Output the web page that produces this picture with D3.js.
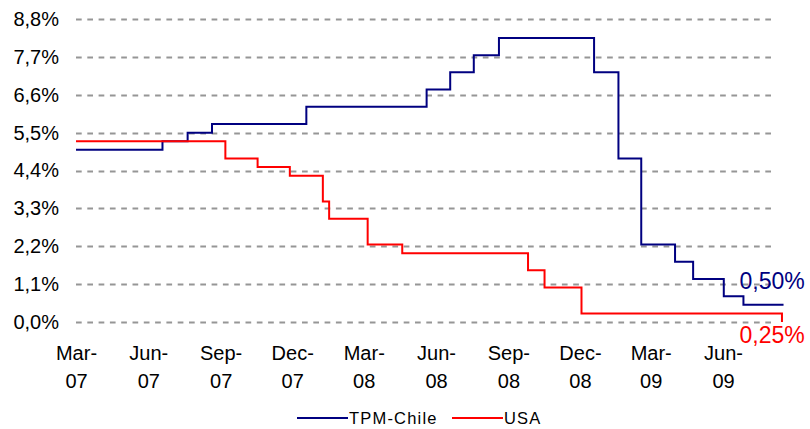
<!DOCTYPE html>
<html>
<head>
<meta charset="utf-8">
<script src="https://cdn.jsdelivr.net/npm/d3@7"></script>
<style>
  body { margin: 0; background: #fff; }
  svg { font-family: "Liberation Sans", Arial, sans-serif; }
</style>
</head>
<body>
<div id="chart"></div>
<script>
// TPM Chile vs. USA policy rate (%)
var chileDates = ["2007-03-01", "2007-06-19", "2007-07-21", "2007-08-21", "2007-12-19",
    "2008-05-20", "2008-06-19", "2008-07-19", "2008-08-20", "2008-12-19",
    "2009-01-19", "2009-02-17", "2009-04-01", "2009-04-24", "2009-06-02",
    "2009-06-27", "2009-08-17"];
var chileValues = [5.00, 5.25, 5.50, 5.75, 6.25,
    6.75, 7.25, 7.75, 8.25, 7.25,
    4.75, 2.25, 1.75, 1.25, 0.75,
    0.50, 0.50];

var usaDates = ["2007-03-01", "2007-09-07", "2007-10-18", "2007-11-28", "2008-01-09",
    "2008-01-17", "2008-03-06", "2008-04-19", "2008-09-26", "2008-10-17",
    "2008-12-03", "2009-08-15"];
var usaValues = [5.25, 4.75, 4.50, 4.25, 3.50,
    3.00, 2.25, 2.00, 1.50, 1.00,
    0.25, 0.00];

var seriesNames = ["TPM-Chile", "USA"];
var endValues = [0.50, 0.25];

var yTicks = [0, 1.1, 2.2, 3.3, 4.4, 5.5, 6.6, 7.7, 8.8];
var xTickDates = ["2007-03-01", "2007-06-01", "2007-09-01", "2007-12-01", "2008-03-01",
    "2008-06-01", "2008-09-01", "2008-12-01", "2009-03-01", "2009-06-01"];
var xTickLabels = [["Mar-", "07"], ["Jun-", "07"], ["Sep-", "07"], ["Dec-", "07"], ["Mar-", "08"],
    ["Jun-", "08"], ["Sep-", "08"], ["Dec-", "08"], ["Mar-", "09"], ["Jun-", "09"]];

var colors = ["#000080", "#ff0000"];

var width = 810, height = 429;
var parse = d3.utcParse("%Y-%m-%d");
var locale = d3.formatLocale({ decimal: ",", thousands: ".", grouping: [3], currency: ["", ""] });
var fmt1 = locale.format(".1f"), fmt2 = locale.format(".2f");

var svg = d3.select("#chart").append("svg")
    .attr("width", width)
    .attr("height", height);

var plotLeft = 76, plotRight = 775;

var x = d3.scaleUtc()
    .domain([parse("2007-03-01"), parse("2009-06-01")])
    .range([76, 723]);

var y = d3.scaleLinear()
    .domain([0, 8.8])
    .range([322, 19]);

// dashed grid
svg.append("g").selectAll("line")
    .data(yTicks)
    .enter().append("line")
    .attr("x1", plotLeft)
    .attr("x2", plotRight)
    .attr("y1", function(d) { return Math.round(y(d)) + 0.5; })
    .attr("y2", function(d) { return Math.round(y(d)) + 0.5; })
    .attr("stroke", "#969696")
    .attr("stroke-width", 2)
    .attr("stroke-dasharray", "5.7,5.6");

// y axis labels
var yAxis = svg.append("g")
    .attr("transform", "translate(" + plotLeft + ",0)")
    .call(d3.axisLeft(y).tickValues(yTicks).tickSize(0).tickPadding(17)
        .tickFormat(function(d) { return fmt1(d) + "%"; }));
yAxis.select(".domain").remove();
yAxis.selectAll("text")
    .attr("font-size", "20px")
    .attr("font-family", "'Liberation Sans', Arial, sans-serif")
    .attr("fill", "#000");

// x axis labels (two lines)
var xAxis = svg.append("g")
    .attr("transform", "translate(0,322)")
    .call(d3.axisBottom(x).tickValues(xTickDates.map(parse)).tickSize(0).tickFormat(""));
xAxis.select(".domain").remove();
xAxis.selectAll(".tick").each(function(d, i) {
    var t = d3.select(this).append("text")
        .attr("fill", "#000")
        .attr("font-size", "20px")
        .attr("font-family", "'Liberation Sans', Arial, sans-serif")
        .attr("text-anchor", "middle");
    t.append("tspan").attr("x", 0).attr("y", 38).text(xTickLabels[i][0]);
    t.append("tspan").attr("x", 0).attr("y", 66).text(xTickLabels[i][1]);
});

// step lines
var line = d3.line()
    .x(function(d) { return x(d.date); })
    .y(function(d) { return y(d.value); })
    .curve(d3.curveStepAfter);

function toPoints(dates, values) {
    return dates.map(function(d, i) { return { date: parse(d), value: values[i] }; });
}

var series = [toPoints(chileDates, chileValues), toPoints(usaDates, usaValues)];

svg.append("g").selectAll("path")
    .data(series)
    .enter().append("path")
    .attr("d", line)
    .attr("fill", "none")
    .attr("stroke", function(d, i) { return colors[i]; })
    .attr("stroke-width", 2);

// end labels
var lastDate = series[0][series[0].length - 1].date;
svg.append("text")
    .attr("x", x(lastDate) - 44)
    .attr("y", y(endValues[0]) - 16)
    .attr("fill", colors[0])
    .attr("font-size", "23px")
    .text(fmt2(endValues[0]) + "%");
svg.append("text")
    .attr("x", x(lastDate) - 44)
    .attr("y", y(endValues[1]) + 30)
    .attr("fill", colors[1])
    .attr("font-size", "23px")
    .text(fmt2(endValues[1]) + "%");

// legend
var legendX = [297, 452];
var legend = svg.append("g").selectAll("g")
    .data(seriesNames)
    .enter().append("g")
    .attr("transform", function(d, i) { return "translate(" + legendX[i] + ",418)"; });
legend.append("line")
    .attr("x1", 0).attr("x2", 51)
    .attr("y1", 0).attr("y2", 0)
    .attr("stroke", function(d, i) { return colors[i]; })
    .attr("stroke-width", 2);
legend.append("text")
    .attr("x", 52)
    .attr("y", 6)
    .attr("font-size", "16.5px")
    .attr("letter-spacing", "1.2px")
    .attr("fill", "#000")
    .text(function(d) { return d; });
</script>
</body>
</html>
